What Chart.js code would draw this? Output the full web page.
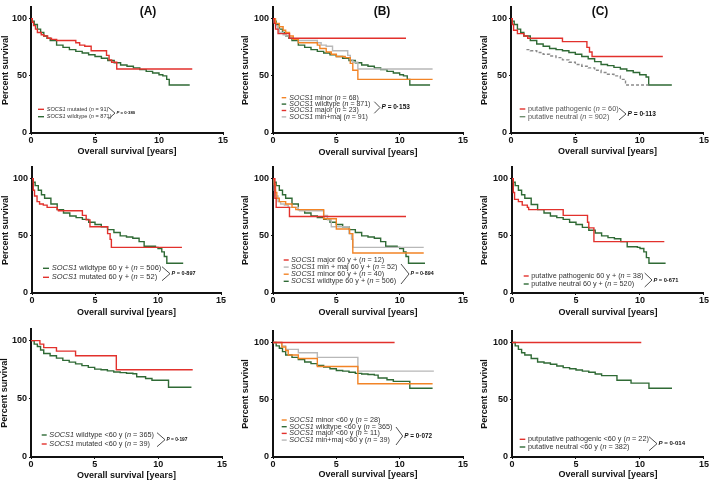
<!DOCTYPE html>
<html>
<head>
<meta charset="utf-8">
<script src="https://cdn.jsdelivr.net/npm/chart.js@4"></script>
<style>
html, body { margin: 0; padding: 0; background: #fff; }
#wrap { position: relative; width: 709px; height: 486px; }
#wrap canvas { position: absolute; }
</style>
</head>
<body>
<div id="wrap"></div>
<script>
// ---- data ----
const xTicks = [0, 5, 10, 15];
const yTicks = [0, 50, 100];
const xTitle = 'Overall survival [years]';
const yTitle = 'Percent survival';
const pValues = ['0·380', '0·153', '0·113', '0·897', '0·894', '0·671', '0·197', '0·072', '0·014'];

// all patients
const wtAllT = [0, 0.1, 0.25, 0.5, 0.75, 1, 1.25, 1.5, 2, 2.5, 3, 3.5, 4, 4.5, 5, 5.5, 6, 6.5, 7, 7.5, 8, 8.5, 9, 9.5, 10, 10.3, 10.6, 10.8, 12.4];
const wtAllS = [100, 98, 95, 91, 88, 85, 83, 81, 77, 75, 73, 71.5, 70, 68.5, 67, 65.5, 63.5, 61.5, 59.5, 58.5, 57, 55.5, 54, 52.5, 51, 50, 47, 42, 42];
const mutAllT = [0, 0.1, 0.2, 0.35, 0.5, 0.8, 1, 1.3, 1.6, 2, 3.5, 3.8, 4.2, 4.7, 5.9, 6.1, 6.3, 6.7, 12.6];
const mutAllS = [100, 97, 94, 91, 88, 86, 85, 83, 82, 81, 79, 77, 76, 72, 68, 64, 62, 56, 56];
const minAllT = [0, 0.2, 0.5, 0.8, 1, 1.3, 1.6, 2, 3.5, 3.7, 4.2, 4.6, 5, 5.7, 6.1, 6.3, 6.7, 12.6];
const minAllS = [100, 96, 93, 90, 88, 85, 82, 79, 77, 74, 71, 69, 67, 66, 61, 55, 47, 47];
const majAllT = [0, 0.1, 0.2, 0.4, 1.3, 10.5];
const majAllS = [100, 96, 91, 87, 83, 83];
const pathAllT = [0, 0.1, 0.2, 0.5, 1, 1.3, 4, 5.9, 6.1, 6.3, 11.8];
const pathAllS = [100, 95, 90, 87, 85, 83, 80, 75, 71, 67, 67];
const neutAllT = [0, 0.1, 0.25, 0.5, 0.75, 1, 1.5, 2, 2.5, 3, 3.5, 4, 4.5, 5, 5.5, 6, 6.5, 7, 7.5, 8, 8.5, 9, 9.5, 10, 10.5, 10.7, 12.5];
const neutAllS = [100, 98, 95, 91, 88, 85, 81, 78, 76, 74, 73, 72, 70.5, 69, 67, 65, 62.5, 60, 59, 57.5, 56, 54.5, 53, 51, 49, 42, 42];
const neutGreyT = [1.2, 1.5, 2, 2.5, 3, 3.5, 4, 4.5, 5, 5.5, 6, 6.5, 7, 7.5, 8, 8.5, 8.9, 10.7];
const neutGreyS = [73, 72, 70.5, 69, 67.5, 66, 64, 62, 60, 58.5, 57, 55, 53, 51.5, 50, 47, 42, 42];

// 60 y +
const wt60T = [0, 0.1, 0.25, 0.5, 0.75, 1, 1.5, 2, 2.5, 3, 3.5, 4, 4.5, 5, 5.5, 6, 6.5, 7, 7.5, 8, 8.5, 8.9, 9.8, 10, 10.3, 10.5, 10.7, 12];
const wt60S = [100, 97, 94, 90, 86, 83, 78, 73, 70, 67.5, 66, 64.5, 62, 60, 58, 55.5, 53, 50, 49, 48, 45, 41, 40, 39, 36, 32, 26, 26];
const mut60T = [0, 0.1, 0.2, 0.4, 0.6, 0.9, 1.2, 2, 2.1, 4, 4.3, 4.6, 6, 6.2, 6.3, 11.9];
const mut60S = [100, 90, 85, 80, 78, 77, 75, 73, 72, 68, 64, 58, 52, 47, 40, 40];
const min60T = [0, 0.1, 0.2, 0.3, 0.5, 1, 1.5, 1.8, 4, 5, 6.05, 6.3, 11.9];
const min60S = [100, 95, 88, 83, 80, 78, 75, 73, 65, 56, 52, 35, 35];
const maj60T = [0, 0.15, 0.25, 1.3, 10.5];
const maj60S = [100, 83, 75, 67, 67];
const path60T = [0, 0.1, 0.2, 0.5, 0.8, 1.2, 1.3, 4, 5.9, 6.0, 6.4, 11.9];
const path60S = [100, 88, 82, 80, 77, 75, 73, 68, 62, 57, 45, 45];
const neut60T = [0, 0.1, 0.25, 0.5, 0.75, 1, 1.5, 2, 2.5, 3, 3.5, 4, 4.5, 5, 5.5, 6, 6.5, 7, 7.5, 8, 8.5, 9, 9.8, 10, 10.3, 10.5, 10.7, 12];
const neut60S = [100, 97, 94, 90, 86, 83, 77.5, 73, 70, 67.5, 66, 64.5, 62, 60, 57.5, 55, 52.5, 50, 48.5, 47.5, 45, 40.5, 40, 39, 36, 31, 26, 26];

// <60 y
const wtLt60T = [0, 0.25, 0.5, 0.75, 1, 1.5, 2, 2.5, 3, 3.5, 4, 4.5, 5, 5.5, 6, 6.5, 7, 7.5, 8, 8.3, 9, 9.5, 10, 10.8, 12.6];
const wtLt60S = [100, 97, 95, 92, 89, 87, 85, 83, 81.5, 80, 78.5, 77, 75.5, 75, 74, 73, 72.5, 72, 71.5, 69, 67.5, 66, 66, 60, 60];
const mutLt60T = [0, 0.7, 1.0, 2.0, 3.5, 6.7, 12.7];
const mutLt60S = [100, 97, 94, 91, 87, 75, 75];
const minLt60T = [0, 0.7, 1.0, 1.2, 2.0, 3.5, 6.7, 12.6];
const minLt60S = [100, 96, 93, 89, 86, 79, 64, 64];
const majLt60T = [0, 9.6];
const majLt60S = [100, 100];
const pathLt60T = [0, 10.1];
const pathLt60S = [100, 100];
const neutLt60T = [0, 0.25, 0.5, 0.75, 1, 1.5, 2, 2.5, 3, 3.5, 4, 4.5, 5, 5.5, 6, 6.5, 7, 8.2, 9.3, 10.7, 12.5];
const neutLt60S = [100, 97, 94, 91, 89, 86, 83, 82, 81, 79.5, 78, 77, 76, 75, 74, 72.5, 71, 67, 64.5, 60, 60];

// legend labels (*...* = italic)
const labelsA1 = ['*SOCS1* mutated (*n* = 91)', '*SOCS1* wildtype (*n* = 871)'];
const labelsB1 = ['*SOCS1* minor (*n* = 68)', '*SOCS1* wildtype (*n* = 871)', '*SOCS1* major (*n* = 23)', '*SOCS1* min+maj (*n* = 91)'];
const labelsC1 = ['putative pathogenic (*n* = 60)', 'putative neutral (*n* = 902)'];
const labelsA2 = ['*SOCS1* wildtype 60 y + (*n* = 506)', '*SOCS1* mutated 60 y + (*n* = 52)'];
const labelsB2 = ['*SOCS1* major 60 y + (*n* = 12)', '*SOCS1* min + maj 60 y + (*n* = 52)', '*SOCS1* minor 60 y + (*n* = 40)', '*SOCS1* wildtype 60 y + (*n* = 506)'];
const labelsC2 = ['putative pathogenic 60 y + (*n* = 38)', 'putative neutral 60 y + (*n* = 520)'];
const labelsA3 = ['*SOCS1* wildtype <60 y (*n* = 365)', '*SOCS1* mutated <60 y (*n* = 39)'];
const labelsB3 = ['*SOCS1* minor <60 y (*n* = 28)', '*SOCS1* wildtype <60 y (*n* = 365)', '*SOCS1* major <60 y (*n* = 11)', '*SOCS1* min+maj <60 y (*n* = 39)'];
const labelsC3 = ['putputative pathogenic <60 y (*n* = 22)', 'putative neutral <60 y (*n* = 382)'];

// ---- styles ----
const RED = '#e2312c', GREEN = '#2f6a35', ORANGE = '#f28426', GREY = '#b8b8b8';
const FONT = '"Liberation Sans", Arial, sans-serif';
Chart.defaults.font.family = FONT;

function curve(t, s, color, dash) {
    return { t: t, s: s, color: color, dash: dash || [] };
}

const panels = [
    { col: 0, row: 0, x0: 31, x15: 223, top: 5, y0: 133, yt: 6, xt: 152, letter: '(A)', lx: 148,
      curves: [curve(mutAllT, mutAllS, RED), curve(wtAllT, wtAllS, GREEN)],
      leg: { labels: labelsA1, colors: [RED, GREEN], x: 38, w: 6, tx: 46.7, y: 109.3, dy: 7.4, fs: 5.6, br: [107.3, 119], bx: 108.3, bw: 6.7, ps: 4.3 } },
    { col: 1, row: 0, x0: 37, x15: 227, top: 7, y0: 133, yt: 10, xt: 152.7, letter: '(B)', lx: 146,
      curves: [curve(majAllT, majAllS, RED), curve(minAllT, minAllS, ORANGE), curve(mutAllT, mutAllS, GREY), curve(wtAllT, wtAllS, GREEN)],
      leg: { labels: labelsB1, colors: [ORANGE, GREEN, RED, GREY], x: 45.7, w: 4.5, tx: 53.3, y: 97.7, dy: 6.4, fs: 7, br: [101.7, 113.3], bx: 138.3, bw: 5.7, ps: 6.5 } },
    { col: 2, row: 0, x0: 39, x15: 232, top: 5, y0: 133, yt: 12.7, xt: 151.7, letter: '(C)', lx: 128,
      curves: [curve(pathAllT, pathAllS, RED), curve(neutGreyT, neutGreyS, '#8a8a8a', [3, 2]), curve(neutAllT, neutAllS, GREEN)],
      leg: { labels: labelsC1, colors: [RED, '#6f8f6f'], x: 47.7, w: 5.6, tx: 56, y: 109, dy: 7.7, fs: 7.3, br: [108, 120], bx: 147, bw: 7, ps: 6.6, tc: '#555' } },
    { col: 0, row: 1, x0: 32, x15: 221, top: 7, y0: 133, yt: 6, xt: 152.7,
      curves: [curve(mut60T, mut60S, RED), curve(wt60T, wt60S, GREEN)],
      leg: { labels: labelsA2, colors: [GREEN, RED], x: 43, w: 6, tx: 51.7, y: 108.3, dy: 9, fs: 7.5, br: [106.7, 120.7], bx: 162, bw: 8, ps: 5.5 } },
    { col: 1, row: 1, x0: 37, x15: 227, top: 7, y0: 133, yt: 10, xt: 152.7,
      curves: [curve(maj60T, maj60S, RED), curve(min60T, min60S, ORANGE), curve(mut60T, mut60S, GREY), curve(wt60T, wt60S, GREEN)],
      leg: { labels: labelsB2, colors: [RED, GREY, ORANGE, GREEN], x: 47.7, w: 5, tx: 55, y: 100, dy: 7.1, fs: 7.2, br: [104, 124], bx: 165, bw: 8, ps: 5.3 } },
    { col: 2, row: 1, x0: 40, x15: 232, top: 7, y0: 133, yt: 13, xt: 152.7,
      curves: [curve(path60T, path60S, RED), curve(neut60T, neut60S, GREEN)],
      leg: { labels: labelsC2, colors: [RED, GREEN], x: 51.7, w: 5, tx: 59.3, y: 116, dy: 8, fs: 7.25, br: [113, 127], bx: 172.7, bw: 7.3, ps: 5.7 } },
    { col: 0, row: 2, x0: 31, x15: 222, top: 9, y0: 137, yt: 5, xt: 156,
      curves: [curve(mutLt60T, mutLt60S, RED), curve(wtLt60T, wtLt60S, GREEN)],
      leg: { labels: labelsA3, colors: [GREEN, RED], x: 41.7, w: 5, tx: 49.3, y: 115, dy: 9, fs: 7.3, br: [112.7, 126.7], bx: 157, bw: 8, ps: 4.8 } },
    { col: 1, row: 2, x0: 37, x15: 227, top: 11, y0: 137, yt: 10, xt: 154.3,
      curves: [curve(majLt60T, majLt60S, RED), curve(minLt60T, minLt60S, ORANGE), curve(mutLt60T, mutLt60S, GREY), curve(wtLt60T, wtLt60S, GREEN)],
      leg: { labels: labelsB3, colors: [ORANGE, GREEN, RED, GREY], x: 45.7, w: 5, tx: 53.3, y: 100, dy: 6.7, fs: 7.2, br: [107, 125], bx: 160, bw: 6.7, ps: 6.4 } },
    { col: 2, row: 2, x0: 40, x15: 232, top: 11, y0: 137, yt: 13, xt: 155,
      curves: [curve(pathLt60T, pathLt60S, RED), curve(neutLt60T, neutLt60S, GREEN)],
      leg: { labels: labelsC3, colors: [RED, GREEN], x: 47.7, w: 5.6, tx: 56, y: 119.3, dy: 7.7, fs: 7.3, br: [116.7, 130.7], bx: 177, bw: 8, ps: 6.1 } }
];

const colX = [0, 236, 472], colW = [236, 236, 237];
const rowY = [0, 160, 320], rowH = [160, 160, 166];

// draws panel letter, legend with italics, bracket and P value
function makeAnnot(p, pv) {
    return {
        id: 'annot',
        afterDraw(chart) {
            const ctx = chart.ctx, L = p.leg;
            ctx.save();
            ctx.textBaseline = 'middle';
            if (p.letter) {
                ctx.font = 'bold 12px ' + FONT;
                ctx.fillStyle = '#111';
                ctx.textAlign = 'center';
                ctx.fillText(p.letter, p.lx, 12);
            }
            ctx.textAlign = 'left';
            L.labels.forEach((lab, i) => {
                const y = L.y + i * L.dy;
                ctx.strokeStyle = L.colors[i];
                ctx.lineWidth = 1.4;
                ctx.beginPath();
                ctx.moveTo(L.x, y);
                ctx.lineTo(L.x + L.w, y);
                ctx.stroke();
                let x = L.tx;
                lab.split('*').forEach((part, k) => {
                    if (!part) return;
                    ctx.font = (k % 2 ? 'italic ' : '') + L.fs + 'px ' + FONT;
                    ctx.fillStyle = L.tc || '#333';
                    ctx.fillText(part, x, y);
                    x += ctx.measureText(part).width;
                });
            });
            const tip = (L.br[0] + L.br[1]) / 2;
            ctx.strokeStyle = '#222';
            ctx.lineWidth = 0.8;
            ctx.beginPath();
            ctx.moveTo(L.bx, L.br[0]);
            ctx.lineTo(L.bx + L.bw, tip);
            ctx.lineTo(L.bx, L.br[1]);
            ctx.stroke();
            let x = L.bx + L.bw + 1.5;
            ctx.fillStyle = '#111';
            ctx.font = 'italic bold ' + L.ps + 'px ' + FONT;
            ctx.fillText('P', x, tip);
            x += ctx.measureText('P').width;
            ctx.font = 'bold ' + L.ps + 'px ' + FONT;
            ctx.fillText(' = ' + pv, x, tip);
            ctx.restore();
        }
    };
}

const wrap = document.getElementById('wrap');
panels.forEach((p, idx) => {
    const W = colW[p.col], H = rowH[p.row];
    const cv = document.createElement('canvas');
    cv.width = W;
    cv.height = H;
    cv.style.left = colX[p.col] + 'px';
    cv.style.top = rowY[p.row] + 'px';
    wrap.appendChild(cv);

    const tickFont = { size: 9, weight: 'bold' };
    const titleFont = { size: 9, weight: 'bold' };

    new Chart(cv, {
        type: 'line',
        data: {
            datasets: p.curves.map(c => ({
                data: c.t.map((t, i) => ({ x: t, y: c.s[i] })),
                borderColor: c.color,
                borderWidth: 1.4,
                borderDash: c.dash,
                stepped: 'before',
                pointRadius: 0,
                fill: false
            }))
        },
        options: {
            responsive: false,
            animation: false,
            devicePixelRatio: 1,
            layout: { padding: { left: 0, right: W - p.x15, top: p.top, bottom: 0 } },
            plugins: { legend: { display: false }, tooltip: { enabled: false } },
            scales: {
                x: {
                    type: 'linear',
                    min: 0,
                    max: 15,
                    afterBuildTicks: s => { s.ticks = xTicks.map(v => ({ value: v })); },
                    afterFit: s => { s.height = H - p.y0; },
                    grid: { drawOnChartArea: false, color: '#111', tickLength: 2 },
                    border: { color: '#111', width: 2 },
                    ticks: { font: tickFont, color: '#111', padding: 0, maxRotation: 0 },
                    title: { display: true, text: xTitle, font: titleFont, color: '#111',
                             padding: { top: 0, bottom: H - p.xt - 5.4 } }
                },
                y: {
                    min: 0,
                    max: 110,
                    afterBuildTicks: s => { s.ticks = yTicks.map(v => ({ value: v })); },
                    afterFit: s => { s.width = p.x0; },
                    grid: { drawOnChartArea: false, color: '#111', tickLength: 2 },
                    border: { color: '#111', width: 2 },
                    ticks: { font: tickFont, color: '#111', padding: 2 },
                    title: { display: true, text: yTitle, font: titleFont, color: '#111',
                             padding: { top: p.yt - 5.4, bottom: 0 } }
                }
            }
        },
        plugins: [makeAnnot(p, pValues[idx])]
    });
});
</script>
</body>
</html>
